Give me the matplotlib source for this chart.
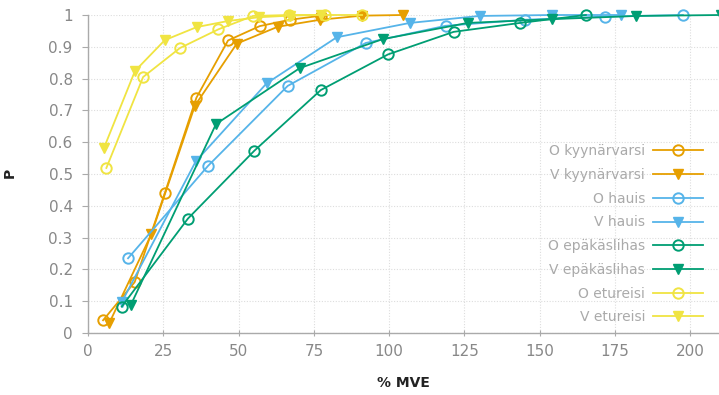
import matplotlib.pyplot as plt
import numpy as np

# -----------------------------
# DATA
# -----------------------------
o_kyyn_x = [5, 15.5, 25.5, 36, 46.5, 57, 67, 77.5]
o_kyyn_p = [0.04, 0.16, 0.44, 0.74, 0.92, 0.965, 0.985, 0.998]
v_kyyn_x = [7, 21, 35.5, 49.4, 63, 77, 91, 104.5]
v_kyyn_p = [0.03, 0.31, 0.715, 0.91, 0.963, 0.985, 0.998, 1.0]

o_hauis_x = [13.3, 39.8, 66.3, 92.2, 118.7, 145, 171.5, 197.5]
o_hauis_p = [0.235, 0.525, 0.777, 0.912, 0.966, 0.985, 0.995, 1.0]
v_hauis_x = [11.2, 35.8, 59.3, 82.6, 106.8, 130, 154, 177]
v_hauis_p = [0.097, 0.54, 0.785, 0.93, 0.975, 0.997, 1.0, 1.0]

o_epak_x = [11.2, 33.2, 55.2, 77.3, 99.6, 121.4, 143.4, 165.3]
o_epak_p = [0.083, 0.36, 0.573, 0.764, 0.876, 0.947, 0.975, 1.0]
v_epak_x = [14.2, 42.5, 70.3, 97.8, 126, 154, 182, 210]
v_epak_p = [0.088, 0.657, 0.833, 0.924, 0.975, 0.987, 0.997, 1.0]

o_etur_x = [6.1, 18.3, 30.5, 43.3, 54.8, 66.8, 78.6, 91]
o_etur_p = [0.519, 0.805, 0.896, 0.955, 0.997, 1.0, 1.0, 1.0]
v_etur_x = [5.3, 15.6, 25.5, 36.1, 46.4, 56.7, 67, 77.3]
v_etur_p = [0.582, 0.824, 0.921, 0.962, 0.981, 0.993, 0.998, 1.0]

x_ticks = [0, 25, 50, 75, 100, 125, 150, 175, 200]
y_ticks = [0, 0.1, 0.2, 0.3, 0.4, 0.5, 0.6, 0.7, 0.8, 0.9, 1]
y_tick_labels = ["0", "0.1", "0.2", "0.3", "0.4", "0.5", "0.6", "0.7", "0.8", "0.9", "1"]

ORANGE = "#E69F00"
BLUE = "#56B4E9"
GREEN = "#009E73"
YELLOW = "#F0E442"

series = [
    ("O kyynärvarsi", o_kyyn_x, o_kyyn_p, ORANGE, "o"),
    ("V kyynärvarsi", v_kyyn_x, v_kyyn_p, ORANGE, "v"),
    ("O hauis", o_hauis_x, o_hauis_p, BLUE, "o"),
    ("V hauis", v_hauis_x, v_hauis_p, BLUE, "v"),
    ("O epäkäslihas", o_epak_x, o_epak_p, GREEN, "o"),
    ("V epäkäslihas", v_epak_x, v_epak_p, GREEN, "v"),
    ("O etureisi", o_etur_x, o_etur_p, YELLOW, "o"),
    ("V etureisi", v_etur_x, v_etur_p, YELLOW, "v"),
]

# -----------------------------
# PLOTTING
# -----------------------------
fig = plt.figure(figsize=(7.19, 3.95), dpi=100)
ax = fig.add_axes([88 / 719, 62 / 395, 631 / 719, 318 / 395])

for label, xs, ps, col, mk in series:
    if mk == "o":
        ax.plot(xs, ps, "-", color=col, lw=1.3, marker="o", ms=7.5,
                mfc="none", mec=col, mew=1.4, label=label, clip_on=False)
    else:
        ax.plot(xs, ps, "-", color=col, lw=1.3, marker="v", ms=7.5,
                mfc=col, mec=col, label=label, clip_on=False)

ax.set_xlim(0, 209.5)
ax.set_ylim(0, 1)
ax.set_xticks(x_ticks)
ax.set_yticks(y_ticks)
ax.set_yticklabels(y_tick_labels)

ax.grid(True, color="#dddddd", linestyle=(0, (1, 1.5)), lw=0.8)
ax.set_axisbelow(True)

for s in ["top", "right"]:
    ax.spines[s].set_visible(False)
for s in ["left", "bottom"]:
    ax.spines[s].set_color("#aaaaaa")
    ax.spines[s].set_linewidth(1.0)

ax.tick_params(axis="both", colors="#aaaaaa", labelcolor="#888888",
               labelsize=11, length=4)
ax.tick_params(axis="x", direction="inout", pad=6)
ax.tick_params(axis="y", pad=7)

ax.set_xlabel("% MVE", fontsize=10, fontweight="bold", color="#222222")
ax.xaxis.set_label_coords(0.50, -0.135)
fig.text(10 / 719, 1 - 173 / 395, "P", rotation=90, fontsize=10,
         fontweight="bold", color="#222222", va="center", ha="center")

leg = ax.legend(loc="lower right", bbox_to_anchor=(0.984, 0.01), frameon=False,
                markerfirst=False, fontsize=10, labelspacing=0.7,
                handlelength=3.6, handletextpad=0.6, borderaxespad=0.0)
for t in leg.get_texts():
    t.set_color("#aaaaaa")
    t.set_ha("right")

fig.savefig("out.png", dpi=100)
